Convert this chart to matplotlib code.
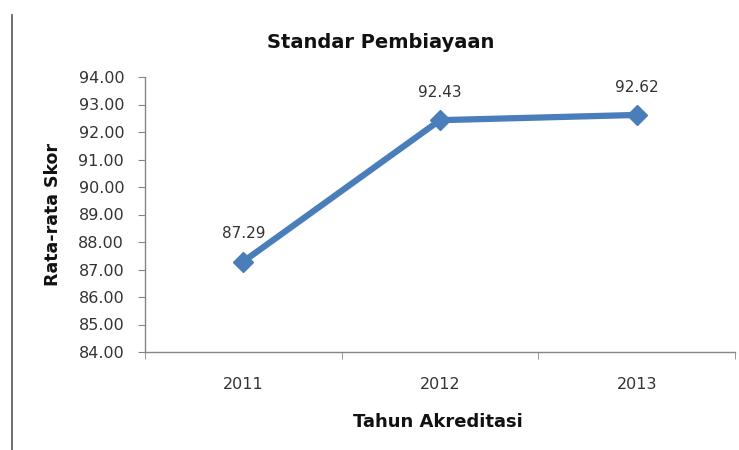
import matplotlib
matplotlib.use("Agg")
import matplotlib.pyplot as plt
from matplotlib.lines import Line2D

years = ["2011", "2012", "2013"]
scores = [87.29, 92.43, 92.62]
y_ticks = [84, 85, 86, 87, 88, 89, 90, 91, 92, 93, 94]

plt.rcParams['font.family'] = ['DejaVu Sans']

fig = plt.figure(figsize=(7.39, 4.5), dpi=100)
ax = fig.add_axes([145/739, 1-352/450, (735-145)/739, (352-77)/450])

x = list(range(len(years)))
ax.plot(x, scores, color='#4A7EBB', lw=4.5, marker='D', markersize=10,
        markerfacecolor='#4A7EBB', markeredgecolor='#4A7EBB', solid_capstyle='round')
for xi, v in zip(x, scores):
    ax.annotate(f"{v:.2f}", (xi, v), xytext=(0, 20), textcoords='offset points',
                ha='center', va='center', fontsize=11, color='#333333')

ax.set_xlim(-0.5, len(years)-0.5)
ax.set_ylim(84, 94)
ax.set_yticks(y_ticks)
ax.set_yticklabels([f"{t:.2f}" for t in y_ticks], fontsize=11.5, color='#333333')
ax.set_xticks(x)
ax.set_xticklabels(years, fontsize=11.5, color='#333333')
ax.set_xticks([i - 0.5 for i in range(len(years)+1)], minor=True)
ax.tick_params(axis='x', which='major', length=0, pad=18)
ax.tick_params(axis='x', which='minor', length=5, color='#868686', direction='out')
ax.tick_params(axis='y', length=5, color='#868686', direction='out', pad=10)

for s in ['top', 'right']:
    ax.spines[s].set_visible(False)
for s in ['left', 'bottom']:
    ax.spines[s].set_color('#868686')
    ax.spines[s].set_linewidth(1.0)

fig.text(381/739, 1-42/450, "Standar Pembiayaan", ha='center', va='center',
         fontsize=14, fontweight='bold', color='#111111')
fig.text(438/739, 1-422/450, "Tahun Akreditasi", ha='center', va='center',
         fontsize=13, fontweight='bold', color='#111111')
fig.text(53/739, 1-215/450, "Rata-rata Skor", ha='center', va='center',
         rotation=90, fontsize=12.5, fontweight='bold', color='#111111')

fig.add_artist(Line2D([12/739, 12/739], [0, 1-15/450], color='#555555', lw=1.2))

fig.savefig("out.png", dpi=100)
